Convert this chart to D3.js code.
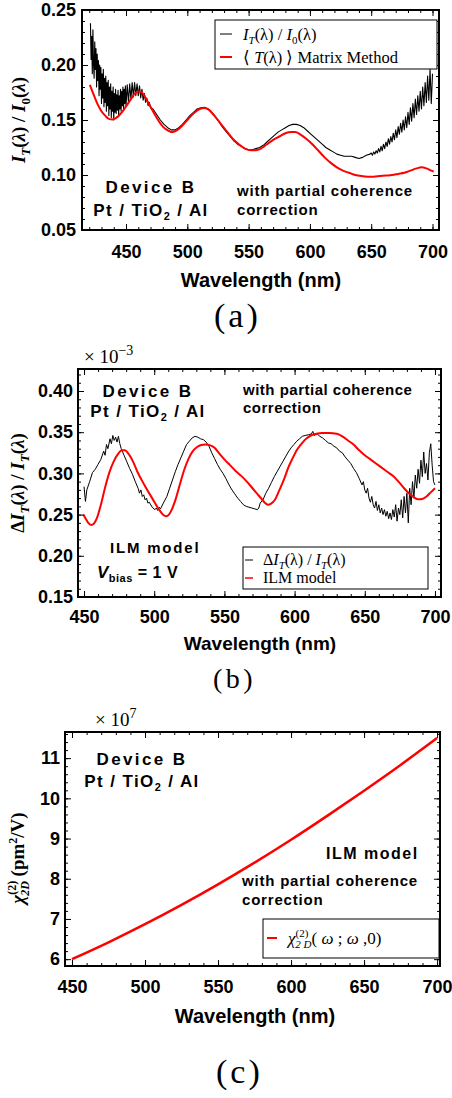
<!DOCTYPE html>
<html>
<head>
<meta charset="utf-8">
<script src="https://cdn.jsdelivr.net/npm/d3@7"></script>
<style>
  body { margin: 0; background: #fff; }
  svg { display: block; }
</style>
</head>
<body>
<svg id="fig" width="452" height="1098"></svg>
<script>
// ---- tick labels ----
const wavelengthTicks = [450, 500, 550, 600, 650, 700];
const ticksA = [0.05, 0.10, 0.15, 0.20, 0.25];
const ticksB = [0.15, 0.20, 0.25, 0.30, 0.35, 0.40];
const ticksC = [6, 7, 8, 9, 10, 11];

// ---- (a) measured transmission I_T/I_0 : [wavelength nm, value] ----
const measuredA = [
  [421,0.238],[421.5,0.205],[422,0.226],[422.5,0.192],[423,0.232],[423.5,0.200],[424,0.188],[424.5,0.221],[425,0.196],[425.5,0.215],
  [426,0.180],[426.5,0.210],[427,0.186],[427.5,0.204],[428,0.172],[428.5,0.200],[429,0.178],[429.5,0.198],[430,0.165],[430.5,0.192],
  [431,0.170],[431.5,0.196],[432,0.162],[432.5,0.188],[433,0.166],[433.5,0.190],[434,0.158],[434.5,0.184],[435,0.163],[435.5,0.186],
  [436,0.154],[436.5,0.180],[437,0.160],[437.5,0.183],[438,0.152],[438.5,0.176],[439,0.158],[439.5,0.180],[440,0.150],[440.5,0.174],
  [441,0.157],[441.5,0.178],[442,0.156],[442.5,0.173],[443,0.159],[443.5,0.177],[444,0.153],[444.5,0.172],[445,0.160],[445.5,0.178],
  [446,0.158],[446.5,0.176],[447,0.163],[447.5,0.180],[448,0.160],[448.5,0.178],[449,0.165],[449.5,0.181],[450,0.163],
  [451,0.182],[452,0.166],[453,0.183],[454,0.169],[455,0.184],[456,0.171],[457,0.184],[458,0.172],[459,0.183],[460,0.172],
  [461,0.181],[462,0.170],[463,0.178],[464,0.168],[465,0.174],[466,0.166],[467,0.170],[468,0.163],[469,0.166],[470,0.161],
  [472,0.160],[475,0.155],[478,0.150],[481,0.146],[484,0.143],[487,0.141],[490,0.141],[493,0.143],[496,0.146],[499,0.150],
  [502,0.154],[505,0.157],[508,0.160],[511,0.161],[514,0.1615],[517,0.160],[520,0.157],[523,0.153],[526,0.148],[529,0.143],
  [532,0.139],[535,0.135],[538,0.131],[541,0.128],[544,0.126],[547,0.124],[550,0.123],[553,0.123],[556,0.124],[559,0.125],
  [562,0.127],[565,0.130],[568,0.133],[571,0.136],[574,0.139],[577,0.141],[580,0.143],[583,0.145],[586,0.146],[589,0.146],
  [592,0.145],[595,0.143],[598,0.140],[601,0.137],[604,0.134],[607,0.131],[610,0.128],[613,0.125],[616,0.123],[619,0.121],
  [622,0.119],[625,0.118],[628,0.117],[631,0.117],[634,0.117],[637,0.116],[640,0.115],[643,0.116],[646,0.118],[649,0.119],
  [650,0.120],[651,0.118],[652,0.121],[653,0.119],[654,0.122],[655,0.120],[656,0.124],[657,0.121],[658,0.126],[659,0.122],
  [660,0.128],[661,0.124],[662,0.130],[663,0.126],[664,0.133],[665,0.128],[666,0.135],[667,0.130],[668,0.138],[669,0.132],
  [670,0.141],[671,0.134],[672,0.144],[673,0.137],[674,0.147],[675,0.139],[676,0.150],[677,0.141],[678,0.153],[679,0.143],
  [680,0.157],[681,0.146],[682,0.161],[683,0.149],[684,0.165],[685,0.152],[686,0.169],[687,0.155],[688,0.172],[689,0.158],
  [690,0.176],[691,0.160],[692,0.180],[693,0.163],[694,0.184],[695,0.166],[696,0.190],[697,0.168],[698,0.196],[699,0.165],
  [700,0.192]
];

// ---- (a) transfer-matrix transmission <T> ----
const matrixA = [
  [420.5,0.182],[424,0.172],[427,0.164],[430,0.158],[433,0.154],[436,0.151],[439,0.1505],[442,0.152],[445,0.155],[448,0.159],
  [451,0.164],[454,0.169],[457,0.174],[460,0.176],[463,0.175],[466,0.170],[470,0.162],[475,0.152],[480,0.144],[485,0.140],
  [488,0.139],[492,0.141],[496,0.145],[500,0.150],[505,0.156],[510,0.160],[514,0.161],[518,0.159],[522,0.154],[527,0.147],
  [532,0.140],[537,0.133],[542,0.128],[547,0.124],[552,0.1225],[556,0.1225],[560,0.124],[565,0.128],[570,0.132],[575,0.135],
  [580,0.138],[585,0.139],[588,0.139],[592,0.137],[597,0.133],[602,0.128],[607,0.122],[612,0.116],[617,0.111],[622,0.107],
  [627,0.104],[632,0.102],[637,0.100],[642,0.099],[647,0.0985],[652,0.0985],[657,0.099],[662,0.0995],[667,0.100],[672,0.101],
  [677,0.102],[682,0.104],[687,0.106],[691,0.107],[695,0.106],[699,0.104],[701,0.103]
];

// ---- (b) measured electro-modulation dI_T/I_T (x 1e-3) ----
const measuredB = [
  [450,0.284],[451,0.266],[452,0.280],[454,0.290],[456,0.301],[458,0.305],[460,0.311],[462,0.317],[464,0.327],[465,0.322],
  [466,0.335],[467,0.330],[468.5,0.342],[469.5,0.336],[470.5,0.346],[471.5,0.340],[472.5,0.344],[473.5,0.338],[474.5,0.345],[475.5,0.336],
  [476.5,0.330],[478.5,0.322],[480.5,0.314],[482.5,0.306],[484.5,0.299],[486.5,0.290],[488.5,0.282],[489.5,0.276],[490.5,0.280],[491.5,0.272],
  [492.5,0.274],[493.5,0.268],[494.5,0.270],[495.5,0.264],[496.5,0.265],[498.5,0.259],[500.5,0.256],[501.5,0.258],[502.5,0.255],[503.5,0.259],
  [504.5,0.257],[506.5,0.264],[509,0.272],[511,0.282],[513,0.292],[515,0.302],[517,0.311],[519,0.319],[521,0.327],[523,0.335],
  [525,0.339],[527,0.343],[529,0.345],[531,0.344],[533,0.342],[535,0.341],[537,0.338],[539,0.333],[541,0.325],[543,0.318],
  [545,0.311],[547,0.305],[549,0.300],[551,0.294],[553,0.287],[555,0.281],[557,0.276],[559.5,0.270],[561.5,0.266],[563.5,0.262],
  [565.5,0.260],[567.5,0.259],[569.5,0.258],[571.5,0.257],[573.5,0.256],[574.5,0.258],[575.5,0.264],[577.5,0.268],[579.5,0.276],[581.5,0.282],
  [583.5,0.289],[585.5,0.296],[587.5,0.302],[589.5,0.308],[591.5,0.314],[593.5,0.320],[595.5,0.326],[597.5,0.331],[599.5,0.335],[601.5,0.339],
  [603.5,0.342],[605.5,0.345],[607.5,0.346],[610,0.347],[612,0.348],[613,0.351],[614,0.346],[616,0.348],[618,0.345],[620,0.343],
  [622,0.340],[624,0.337],[626,0.336],[628,0.333],[630,0.331],[632,0.327],[634,0.325],[636,0.320],[638,0.316],[640,0.312],
  [642,0.306],[644,0.301],[646,0.294],[648,0.286],[649,0.290],[650,0.280],[651,0.276],[652,0.282],[653,0.270],[654,0.265],
  [655,0.272],[656,0.262],[657,0.258],[658,0.266],[659,0.255],[660,0.262],[661,0.252],[662,0.258],[663,0.250],[664,0.256],
  [665,0.248],[666,0.254],[667,0.245],[668,0.252],[669,0.244],[670,0.256],[671,0.247],[672,0.262],[673,0.242],[674,0.258],
  [675,0.250],[676,0.268],[677,0.246],[678,0.272],[679,0.252],[680,0.276],[681,0.240],[682,0.282],[683,0.262],[684,0.290],
  [685,0.270],[686,0.298],[687,0.282],[688,0.305],[689,0.288],[690,0.316],[691,0.296],[692,0.326],[693,0.300],[694,0.312],
  [695,0.292],[696,0.325],[697,0.336],[698,0.310],[699,0.290],[700,0.286]
];

// ---- (b) ILM model ----
const ilmB = [
  [449.5,0.250],[451,0.2455],[453,0.240],[455,0.2375],[457,0.239],[459,0.245],[462,0.262],[465,0.283],[468,0.301],[471,0.314],
  [474,0.323],[477,0.328],[479,0.328],[482,0.323],[485,0.314],[488,0.302],[493,0.286],[498.5,0.270],[503.5,0.256],[506.5,0.2495],
  [508.5,0.248],[510.5,0.250],[512.5,0.256],[515.5,0.270],[518.5,0.288],[521.5,0.305],[524.5,0.318],[527.5,0.327],[530.5,0.332],[533.5,0.3345],
  [536.5,0.335],[540,0.334],[543,0.331],[546,0.325],[550,0.317],[554,0.310],[558,0.303],[562,0.297],[566,0.290],[570,0.282],
  [574,0.274],[577,0.268],[579,0.264],[581,0.262],[583,0.263],[586,0.268],[589,0.279],[592.5,0.293],[595.5,0.307],[598.5,0.318],
  [601.5,0.328],[604.5,0.335],[607.5,0.341],[611.5,0.346],[615.5,0.348],[619.5,0.349],[624.5,0.349],[630,0.348],[634,0.345],[638,0.340],
  [642,0.335],[646,0.328],[650,0.322],[654,0.317],[658,0.312],[662,0.307],[666,0.302],[670,0.297],[674,0.290],[678,0.282],
  [682,0.275],[685,0.271],[688,0.2685],[691,0.269],[694,0.272],[697,0.277],[700,0.282]
];

// ---- (c) chi(2)_2D (x 1e7 pm^2/V) ----
const chiC = [
  [450,6.0],[475,6.42],[500,6.87],[525,7.35],[550,7.86],[575,8.40],[600,8.97],[625,9.57],[650,10.19],[675,10.83],[700,11.5]
];

const SANS = "'Liberation Sans', Arial, Helvetica, sans-serif";
const SERIF = "'Liberation Serif', 'Times New Roman', serif";
const RED = "#ff0000";

const svg = d3.select("#fig");

// text built from runs; each run may be shifted up/down (sub/superscript)
function rich(parent, x, y, runs, attrs) {
  const t = parent.append("text").attr("x", x).attr("y", y);
  Object.entries(attrs || {}).forEach(([k, v]) => t.attr(k, v));
  let cur = 0;
  runs.forEach(r => {
    const s = t.append("tspan").text(r.t);
    const target = r.dy || 0;
    if (target !== cur) s.attr("dy", target - cur);
    cur = target;
    if (r.dx) s.attr("dx", r.dx);
    if (r.size) s.attr("font-size", r.size);
    if (r.it) s.attr("font-style", "italic");
  });
  return t;
}

function stepValues(lo, hi, step) {
  const k0 = Math.ceil(lo / step - 1e-9), k1 = Math.floor(hi / step + 1e-9);
  return d3.range(k0, k1 + 1).map(k => +(k * step).toFixed(6));
}

function panel(cfg) {
  const g = svg.append("g");
  const x = d3.scaleLinear().domain(cfg.xDomain).range([cfg.left, cfg.right]);
  const y = d3.scaleLinear().domain(cfg.yDomain).range([cfg.bottom, cfg.top]);

  const tidy = a => {
    a.select(".domain").remove();
    a.selectAll(".tick line").attr("stroke", "#000").attr("stroke-width", 1);
    a.attr("font-family", SANS).attr("font-size", 18).attr("font-weight", "bold");
    a.selectAll("text").attr("fill", "#000");
  };
  const xMinor = stepValues(cfg.xDomain[0], cfg.xDomain[1], 10);
  const yMinor = stepValues(cfg.yDomain[0], cfg.yDomain[1], cfg.yMinorStep);

  // series
  cfg.series.forEach(s => {
    const line = d3.line().x(d => x(d[0])).y(d => y(d[1]))
      .curve(s.smooth ? d3.curveMonotoneX : d3.curveLinear);
    g.append("path").datum(s.data).attr("d", line)
      .attr("fill", "none").attr("stroke", s.color).attr("stroke-width", s.width)
      .attr("stroke-linejoin", "round");
  });

  // ticks on all four sides, pointing inward
  g.append("g").attr("transform", `translate(0,${cfg.bottom})`)
    .call(d3.axisBottom(x).tickValues(xMinor).tickSize(-3).tickFormat("")).call(tidy);
  g.append("g").attr("transform", `translate(0,${cfg.bottom})`)
    .call(d3.axisBottom(x).tickValues(wavelengthTicks).tickSize(-6).tickPadding(cfg.xPad).tickFormat(d3.format("d"))).call(tidy);
  g.append("g").attr("transform", `translate(0,${cfg.top})`)
    .call(d3.axisTop(x).tickValues(xMinor).tickSize(-3).tickFormat("")).call(tidy);
  g.append("g").attr("transform", `translate(0,${cfg.top})`)
    .call(d3.axisTop(x).tickValues(wavelengthTicks).tickSize(-6).tickFormat("")).call(tidy);
  g.append("g").attr("transform", `translate(${cfg.left},0)`)
    .call(d3.axisLeft(y).tickValues(yMinor).tickSize(-3).tickFormat("")).call(tidy);
  g.append("g").attr("transform", `translate(${cfg.left},0)`)
    .call(d3.axisLeft(y).tickValues(cfg.yTicks).tickSize(-6).tickPadding(cfg.yPad).tickFormat(cfg.yFmt)).call(tidy);
  g.append("g").attr("transform", `translate(${cfg.right},0)`)
    .call(d3.axisRight(y).tickValues(yMinor).tickSize(-3).tickFormat("")).call(tidy);
  g.append("g").attr("transform", `translate(${cfg.right},0)`)
    .call(d3.axisRight(y).tickValues(cfg.yTicks).tickSize(-6).tickFormat("")).call(tidy);

  g.append("rect").attr("x", cfg.left).attr("y", cfg.top)
    .attr("width", cfg.right - cfg.left).attr("height", cfg.bottom - cfg.top)
    .attr("fill", "none").attr("stroke", "#000").attr("stroke-width", 2);

  // x-axis title
  g.append("text").attr("x", cfg.titleX).attr("y", cfg.titleY).attr("text-anchor", "middle")
    .attr("font-family", SANS).attr("font-weight", "bold").attr("font-size", cfg.titleSize)
    .text("Wavelength (nm)");
  return g;
}

// annotation helpers
function device(g, cx, y1, y2) {
  g.append("text").attr("x", cx).attr("y", y1).attr("text-anchor", "middle")
    .attr("font-family", SANS).attr("font-weight", "bold").attr("font-size", 17)
    .attr("letter-spacing", 2.4).text("Device B");
  rich(g, cx, y2, [{t: "Pt / TiO"}, {t: "2", dy: 4, size: 11}, {t: " / Al", dy: 0}],
    {"text-anchor": "middle", "font-family": SANS, "font-weight": "bold", "font-size": 17, "letter-spacing": 1.4});
}
function coherence(g, x, y1, y2, spacing) {
  [["with partial coherence", y1], ["correction", y2]].forEach(([s, yy]) => {
    g.append("text").attr("x", x).attr("y", yy)
      .attr("font-family", SANS).attr("font-weight", "bold").attr("font-size", 15)
      .attr("letter-spacing", spacing).text(s);
  });
}
function legendBox(g, x, y, w, h) {
  g.append("rect").attr("x", x).attr("y", y).attr("width", w).attr("height", h)
    .attr("fill", "#fff").attr("stroke", "#000").attr("stroke-width", 1);
}
function sample(g, x1, x2, y, color, width) {
  g.append("line").attr("x1", x1).attr("x2", x2).attr("y1", y).attr("y2", y)
    .attr("stroke", color).attr("stroke-width", width);
}
function caption(x, y, size, spacing, s) {
  svg.append("text").attr("x", x).attr("y", y).attr("font-family", SERIF)
    .attr("font-size", size).attr("letter-spacing", spacing).text(s);
}

// ================= (a) =================
const gA = panel({
  left: 82, right: 439, top: 10, bottom: 230,
  xDomain: [414.1, 705.3], yDomain: [0.05, 0.25],
  yTicks: ticksA, yMinorStep: 0.01, yFmt: d3.format(".2f"),
  xPad: 15, yPad: 6, titleX: 261, titleY: 287, titleSize: 20,
  series: [
    {data: measuredA, color: "#000", width: 1.1, smooth: false},
    {data: matrixA, color: RED, width: 2, smooth: true}
  ]
});
device(gA, 151, 193, 216);
coherence(gA, 237, 196, 215, 0.8);
legendBox(gA, 215, 20, 222, 49);
sample(gA, 220, 232, 34, "#000", 1);
sample(gA, 220, 232, 57, RED, 2);
rich(gA, 243, 40, [
  {t: "I", it: true}, {t: "T", it: true, dy: 4, size: 11}, {t: "(λ) / ", dy: 0},
  {t: "I", it: true}, {t: "0", dy: 4, size: 11}, {t: "(λ)", dy: 0}
], {"font-family": SERIF, "font-size": 16.5});
rich(gA, 243, 63, [
  {t: "⟨ "}, {t: "T", it: true}, {t: "(λ) ⟩ Matrix Method"}
], {"font-family": SERIF, "font-size": 16.5});
rich(svg, 0, 0, [
  {t: "I", it: true}, {t: "T", it: true, dy: 5, size: 13}, {t: "(", dy: 0}, {t: "λ", it: true}, {t: ") / "},
  {t: "I", it: true}, {t: "0", dy: 5, size: 13}, {t: "(", dy: 0}, {t: "λ", it: true}, {t: ")"}
], {"font-family": SERIF, "font-weight": "bold", "font-size": 19, "text-anchor": "middle",
    "transform": "translate(25,120) rotate(-90)"});
caption(214, 327, 34, 3, "(a)");

// ================= (b) =================
const gB = panel({
  left: 78, right: 441, top: 369, bottom: 597,
  xDomain: [445.7, 704.3], yDomain: [0.15, 0.4267],
  yTicks: ticksB, yMinorStep: 0.01, yFmt: d3.format(".2f"),
  xPad: 13, yPad: 5, titleX: 260, titleY: 650, titleSize: 19,
  series: [
    {data: measuredB, color: "#000", width: 1, smooth: false},
    {data: ilmB, color: RED, width: 2, smooth: true}
  ]
});
rich(gB, 84, 363, [{t: "× 10"}, {t: "−3", dy: -8, size: 14}], {"font-family": SERIF, "font-size": 19});
device(gB, 148, 397, 417);
coherence(gB, 243, 395, 413, 0.5);
gB.append("text").attr("x", 110).attr("y", 553).attr("font-family", SANS).attr("font-weight", "bold")
  .attr("font-size", 15).attr("letter-spacing", 1.8).text("ILM model");
rich(gB, 97, 578, [
  {t: "V", it: true, size: 17}, {t: "bias", dy: 4, size: 11}, {t: " = 1 V", dy: 0, size: 16}
], {"font-family": SANS, "font-weight": "bold", "letter-spacing": 0.5});
legendBox(gB, 243, 547, 185, 42);
sample(gB, 245, 253, 560, "#000", 1);
sample(gB, 245, 253, 578, RED, 1.5);
rich(gB, 263, 565, [
  {t: "Δ"}, {t: "I", it: true}, {t: "T", it: true, dy: 4, size: 11}, {t: "(λ) / ", dy: 0},
  {t: "I", it: true}, {t: "T", it: true, dy: 4, size: 11}, {t: "(λ)", dy: 0}
], {"font-family": SERIF, "font-size": 16});
rich(gB, 263, 583, [{t: "ILM model"}], {"font-family": SERIF, "font-size": 16});
rich(svg, 0, 0, [
  {t: "Δ"}, {t: "I", it: true}, {t: "T", it: true, dy: 5, size: 13}, {t: "(", dy: 0}, {t: "λ", it: true}, {t: ") / "},
  {t: "I", it: true}, {t: "T", it: true, dy: 5, size: 13}, {t: "(", dy: 0}, {t: "λ", it: true}, {t: ")"}
], {"font-family": SERIF, "font-weight": "bold", "font-size": 19, "text-anchor": "middle",
    "transform": "translate(24,483) rotate(-90)"});
caption(213, 688, 28, 3.5, "(b)");

// ================= (c) =================
const gC = panel({
  left: 65, right: 440, top: 732, bottom: 966,
  xDomain: [445.2, 702], yDomain: [5.83, 11.65],
  yTicks: ticksC, yMinorStep: 0.2, yFmt: d3.format("d"),
  xPad: 14, yPad: 5, titleX: 255, titleY: 1023, titleSize: 20,
  series: [
    {data: chiC, color: RED, width: 2.5, smooth: true}
  ]
});
rich(gC, 95, 726, [{t: "× 10"}, {t: "7", dy: -8, size: 14}], {"font-family": SERIF, "font-size": 19});
device(gC, 142, 765, 787);
gC.append("text").attr("x", 326).attr("y", 859).attr("font-family", SANS).attr("font-weight", "bold")
  .attr("font-size", 16).attr("letter-spacing", 1.5).text("ILM model");
coherence(gC, 242, 886, 905, 0.8);
legendBox(gC, 263, 919, 176, 39);
sample(gC, 267, 277, 938, RED, 2);
rich(gC, 288, 944, [
  {t: "χ", it: true}, {t: "(2)", dy: -7, size: 11}, {t: "2 D", it: true, dy: 4, size: 11, dx: -13},
  {t: "( ", dy: 0}, {t: "ω", it: true}, {t: " ; "}, {t: "ω", it: true}, {t: " ,0)"}
], {"font-family": SERIF, "font-size": 17});
rich(svg, 0, 0, [
  {t: "χ", it: true}, {t: "(2)", dy: -8, size: 12}, {t: "2D", it: true, dy: 5, size: 12, dx: -15},
  {t: " (pm", dy: 0}, {t: "2", dy: -7, size: 12}, {t: "/V)", dy: 0}
], {"font-family": SERIF, "font-weight": "bold", "font-size": 19, "text-anchor": "middle",
    "transform": "translate(24,858) rotate(-90)"});
caption(216, 1083, 34, 3, "(c)");
</script>
</body>
</html>
